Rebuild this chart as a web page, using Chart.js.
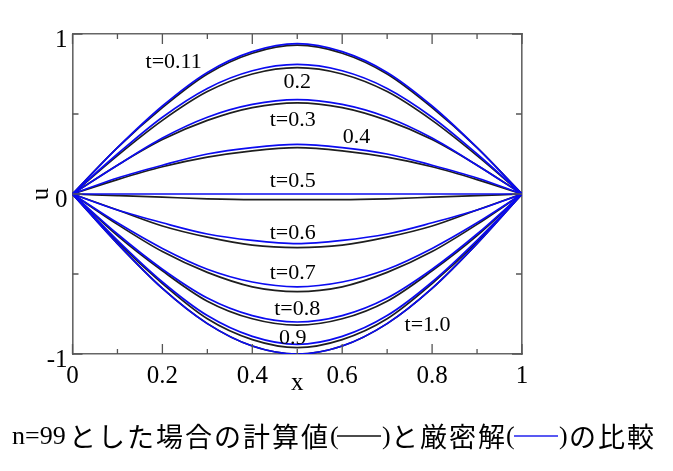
<!DOCTYPE html>
<html>
<head>
<meta charset="utf-8">
<script src="https://cdn.jsdelivr.net/npm/chart.js@4.4.1/dist/chart.umd.min.js"></script>
<style>
  html, body { margin: 0; padding: 0; background: #fff; }
  #wrap { width: 673px; height: 471px; }
</style>
</head>
<body>
<div id="wrap"><canvas id="c" width="673" height="471"></canvas></div>
<script>
// x の分点
const xValues = [0, 0.1, 0.2, 0.3, 0.4, 0.5, 0.6, 0.7, 0.8, 0.9, 1.0];

// 厳密解 (青)
const exact011 = [0, 0.29, 0.55, 0.76, 0.89, 0.94, 0.89, 0.76, 0.55, 0.29, 0];
const exact02  = [0, 0.25, 0.48, 0.66, 0.77, 0.81, 0.77, 0.66, 0.48, 0.25, 0];
const exact03  = [0, 0.18, 0.35, 0.48, 0.56, 0.59, 0.56, 0.48, 0.35, 0.18, 0];
const exact04  = [0, 0.10, 0.18, 0.25, 0.29, 0.31, 0.29, 0.25, 0.18, 0.10, 0];
const exact05  = [0, 0, 0, 0, 0, 0, 0, 0, 0, 0, 0];
const exact06  = [0, -0.10, -0.18, -0.25, -0.29, -0.31, -0.29, -0.25, -0.18, -0.10, 0];
const exact07  = [0, -0.18, -0.34, -0.47, -0.55, -0.58, -0.55, -0.47, -0.34, -0.18, 0];
const exact08  = [0, -0.25, -0.47, -0.65, -0.76, -0.80, -0.76, -0.65, -0.47, -0.25, 0];
const exact09  = [0, -0.29, -0.55, -0.76, -0.89, -0.94, -0.89, -0.76, -0.55, -0.29, 0];
const exact10  = [0, -0.31, -0.59, -0.81, -0.95, -1.0, -0.95, -0.81, -0.59, -0.31, 0];

// 計算値 n=99 (黒)
const calc011 = [0, 0.29, 0.54, 0.75, 0.88, 0.93, 0.88, 0.75, 0.54, 0.29, 0];
const calc02  = [0, 0.24, 0.46, 0.64, 0.75, 0.79, 0.75, 0.64, 0.46, 0.24, 0];
const calc03  = [0, 0.18, 0.34, 0.46, 0.54, 0.57, 0.54, 0.46, 0.34, 0.18, 0];
const calc04  = [0, 0.09, 0.17, 0.23, 0.27, 0.29, 0.27, 0.23, 0.17, 0.09, 0];
const calc05  = [0, -0.01, -0.02, -0.03, -0.035, -0.035, -0.035, -0.03, -0.02, -0.01, 0];
const calc06  = [0, -0.10, -0.20, -0.27, -0.32, -0.335, -0.32, -0.27, -0.20, -0.10, 0];
const calc07  = [0, -0.19, -0.36, -0.49, -0.58, -0.61, -0.58, -0.49, -0.36, -0.19, 0];
const calc08  = [0, -0.26, -0.48, -0.67, -0.78, -0.82, -0.78, -0.67, -0.48, -0.26, 0];
const calc09  = [0, -0.30, -0.56, -0.78, -0.91, -0.96, -0.91, -0.78, -0.56, -0.30, 0];
const calc10  = [0, -0.31, -0.59, -0.81, -0.95, -1.0, -0.95, -0.81, -0.59, -0.31, 0];

const exactSeries = [exact011, exact02, exact03, exact04, exact05, exact06, exact07, exact08, exact09, exact10];
const calcSeries  = [calc011, calc02, calc03, calc04, calc05, calc06, calc07, calc08, calc09, calc10];

// 曲線のラベル
const curveLabels = ['t=0.11', '0.2', 't=0.3', '0.4', 't=0.5', 't=0.6', 't=0.7', 't=0.8', '0.9', 't=1.0'];
const labelAtX = [0.225, 0.50, 0.49, 0.632, 0.49, 0.49, 0.49, 0.50, 0.49, 0.79];
const labelAtY = [0.824, 0.70, 0.46, 0.354, 0.078, -0.248, -0.495, -0.72, -0.90, -0.818];

// 目盛り
const xMajorTicks = [0, 0.2, 0.4, 0.6, 0.8, 1];
const xMinorTicks = [0.1, 0.3, 0.5, 0.7, 0.9];
const yMajorTicks = [-1, 0, 1];
const yMinorTicks = [-0.5, 0.5];

const SERIF = '"Liberation Serif", "Times New Roman", serif';
const CJK = '"Noto Sans CJK JP", sans-serif';

function toPoints(ys) {
  return ys.map((y, i) => ({ x: xValues[i], y: y }));
}

const datasets = [];
exactSeries.forEach((s, i) => {
  datasets.push({
    label: '厳密解 ' + curveLabels[i],
    data: toPoints(s),
    borderColor: '#0b0bf0',
    borderWidth: 1.7,
    pointRadius: 0,
    cubicInterpolationMode: 'monotone',
    order: 0
  });
});
calcSeries.forEach((s, i) => {
  datasets.push({
    label: '計算値 ' + curveLabels[i],
    data: toPoints(s),
    borderColor: '#1e1e1e',
    borderWidth: 1.7,
    pointRadius: 0,
    cubicInterpolationMode: 'monotone',
    order: 1
  });
});

// 内向きの目盛り、軸名、曲線ラベル、下のキャプション
const decorPlugin = {
  id: 'decor',
  afterDraw(chart) {
    const ctx = chart.ctx;
    const xs = chart.scales.x, ys = chart.scales.y;
    const a = chart.chartArea;
    ctx.save();
    ctx.strokeStyle = '#555';
    ctx.lineWidth = 1.3;
    ctx.beginPath();
    const tickX = (vals, len) => vals.forEach(v => {
      const px = xs.getPixelForValue(v);
      ctx.moveTo(px, a.bottom); ctx.lineTo(px, a.bottom - len);
      ctx.moveTo(px, a.top); ctx.lineTo(px, a.top + len);
    });
    const tickY = (vals, len) => vals.forEach(v => {
      const py = ys.getPixelForValue(v);
      ctx.moveTo(a.left, py); ctx.lineTo(a.left + len, py);
      ctx.moveTo(a.right, py); ctx.lineTo(a.right - len, py);
    });
    tickX(xMajorTicks, 10); tickX(xMinorTicks, 5);
    tickY(yMajorTicks, 10); tickY(yMinorTicks, 6);
    ctx.stroke();

    // 曲線ラベル
    ctx.fillStyle = '#000';
    ctx.font = '22px ' + SERIF;
    ctx.textAlign = 'center';
    ctx.textBaseline = 'middle';
    curveLabels.forEach((t, i) => {
      ctx.fillText(t, xs.getPixelForValue(labelAtX[i]), ys.getPixelForValue(labelAtY[i]));
    });

    // 軸名
    ctx.font = '25px ' + SERIF;
    ctx.fillText('x', (a.left + a.right) / 2, 383);
    ctx.save();
    ctx.translate(41, (a.top + a.bottom) / 2);
    ctx.rotate(-Math.PI / 2);
    ctx.fillText('u', 0, 0);
    ctx.restore();

    // キャプション
    const cy = 437;
    ctx.textAlign = 'left';
    ctx.font = '26px ' + SERIF;
    ctx.fillText('n=99', 12, cy);
    const cjk = (str, x0) => {
      ctx.font = '27px ' + CJK;
      ctx.textAlign = 'center';
      [...str].forEach((ch, k) => ctx.fillText(ch, x0 + 29 * k + 14.5, cy));
      ctx.textAlign = 'left';
    };
    cjk('とした場合の計算値', 68);
    ctx.font = '26px ' + SERIF;
    ctx.fillText('(', 330, cy);
    ctx.fillText(')', 382, cy);
    ctx.fillText('(', 506, cy);
    ctx.fillText(')', 559, cy);
    cjk('と厳密解', 390);
    cjk('の比較', 568);
    ctx.lineWidth = 1.3;
    ctx.strokeStyle = '#111';
    ctx.beginPath(); ctx.moveTo(337, cy - 1); ctx.lineTo(381, cy - 1); ctx.stroke();
    ctx.strokeStyle = '#2222ee';
    ctx.beginPath(); ctx.moveTo(514, cy - 1); ctx.lineTo(558, cy - 1); ctx.stroke();
    ctx.restore();
  }
};

const tickFont = { family: SERIF, size: 25 };

new Chart(document.getElementById('c'), {
  type: 'line',
  data: { datasets: datasets },
  options: {
    responsive: false,
    animation: false,
    layout: { padding: { left: 10, right: 151, top: 34, bottom: 77 } },
    plugins: { legend: { display: false }, tooltip: { enabled: false } },
    scales: {
      x: {
        type: 'linear', position: 'bottom', min: 0, max: 1,
        afterFit: s => { s.height = 40; },
        ticks: {
          stepSize: 0.2, padding: 7, color: '#000', font: tickFont,
          callback: v => String(Math.round(v * 10) / 10)
        },
        grid: { display: false, drawTicks: false },
        border: { display: true, color: '#666', width: 1.6 }
      },
      y: {
        type: 'linear', position: 'left', min: -1, max: 1,
        afterFit: s => { s.width = 62.5; },
        ticks: {
          stepSize: 1, padding: 5, labelOffset: 6, color: '#000', font: tickFont,
          callback: v => String(v)
        },
        grid: { display: false, drawTicks: false },
        border: { display: true, color: '#666', width: 1.6 }
      },
      x2: {
        type: 'linear', position: 'top', min: 0, max: 1,
        afterFit: s => { s.height = 0; },
        ticks: { display: false },
        grid: { display: false, drawTicks: false },
        border: { display: true, color: '#666', width: 1.6 }
      },
      y2: {
        type: 'linear', position: 'right', min: -1, max: 1,
        afterFit: s => { s.width = 0; },
        ticks: { display: false },
        grid: { display: false, drawTicks: false },
        border: { display: true, color: '#666', width: 1.6 }
      }
    }
  },
  plugins: [decorPlugin]
});
</script>
</body>
</html>
